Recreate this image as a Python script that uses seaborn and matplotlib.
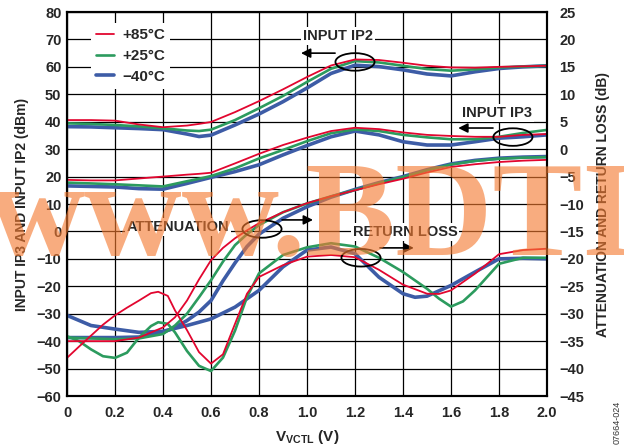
import numpy as np
import pandas as pd
import matplotlib
matplotlib.use('Agg')
import matplotlib.pyplot as plt
from matplotlib.patches import Ellipse
from matplotlib.lines import Line2D
import seaborn as sns

# ---- data ----
temps = ['+85°C', '+25°C', '\u221240°C']

# input IP2 / IP3 (left axis, dBm)
v_ip = [0, 0.1, 0.2, 0.3, 0.4, 0.5, 0.55, 0.6, 0.7, 0.8, 0.9, 1.0, 1.1,
        1.2, 1.3, 1.4, 1.5, 1.6, 1.7, 1.8, 1.9, 2.0]
ip2_85 = [40.6, 40.6, 40.4, 39.0, 38.0, 38.6, 39.2, 39.9, 43.5, 47.5, 51.8, 56.3,
          60.5, 62.7, 62.5, 61.5, 60.4, 59.8, 59.7, 60.0, 60.2, 60.4]
ip2_25 = [39.4, 39.2, 38.8, 38.3, 37.6, 36.8, 36.6, 37.1, 40.6, 44.9, 49.4, 54.5,
          59.3, 62.1, 61.6, 60.4, 59.2, 58.6, 59.1, 59.8, 60.1, 60.4]
ip2_m40 = [38.2, 38.1, 37.8, 37.5, 37.1, 35.5, 34.6, 35.1, 38.8, 42.8, 47.3, 52.3,
           57.6, 60.6, 60.1, 58.9, 57.4, 56.7, 58.2, 59.4, 60.0, 60.4]
ip3_85 = [18.8, 18.6, 18.6, 19.3, 20.0, 20.7, 21.0, 21.4, 24.8, 28.3, 31.5, 34.2,
          36.6, 37.8, 37.3, 36.1, 35.2, 34.8, 34.5, 34.5, 35.2, 35.5]
ip3_25 = [17.8, 17.5, 17.2, 16.8, 16.4, 18.3, 19.2, 20.2, 23.0, 26.6, 29.7, 32.9,
          35.8, 37.2, 36.6, 35.2, 34.3, 33.6, 33.6, 34.5, 35.9, 37.0]
ip3_m40 = [16.6, 16.4, 16.2, 15.6, 15.4, 17.5, 18.6, 19.7, 21.8, 24.3, 27.9, 31.3,
           34.5, 36.6, 35.2, 32.7, 31.5, 31.5, 32.7, 34.0, 34.5, 35.2]

# attenuation (right axis, dB)
v_att = [0, 0.1, 0.2, 0.3, 0.4, 0.45, 0.5, 0.55, 0.6, 0.65, 0.7, 0.75, 0.8, 0.9,
         1.0, 1.1, 1.2, 1.3, 1.4, 1.5, 1.6, 1.7, 1.8, 1.9, 2.0]
att_85 = [-35.0, -35.0, -35.0, -34.35, -32.5, -30.65, -27.6, -23.75, -20.25, -18.0,
          -16.25, -14.8, -13.5, -11.5, -9.85, -8.6, -7.5, -6.4, -5.4, -4.25, -3.25,
          -2.75, -2.35, -2.1, -1.95]
att_25 = [-34.35, -34.5, -34.65, -34.5, -33.7, -32.15, -30.0, -27.0, -23.9, -20.5,
          -17.5, -15.5, -13.85, -11.5, -9.9, -8.6, -7.45, -6.2, -5.1, -3.85, -2.8,
          -2.15, -1.75, -1.55, -1.45]
att_m40 = [-34.35, -34.35, -34.35, -34.25, -33.4, -32.5, -31.25, -29.7, -27.6, -24.0,
           -20.75, -17.75, -15.5, -12.6, -10.5, -8.75, -7.35, -6.1, -5.0, -3.75,
           -2.7, -2.05, -1.65, -1.45, -1.35]

# return loss (right axis, dB)
v_rl_85 = [0, 0.05, 0.1, 0.15, 0.2, 0.25, 0.3, 0.35, 0.38, 0.42, 0.45, 0.5, 0.55, 0.6,
           0.65, 0.7, 0.75, 0.8, 0.9, 1.0, 1.1, 1.2, 1.3, 1.4, 1.5, 1.55, 1.6, 1.7,
           1.8, 1.9, 2.0]
rl_85 = [-38.05, -36.0, -34.0, -32.0, -30.3, -28.9, -27.6, -26.25, -26.0, -26.75,
         -29.4, -33.0, -37.0, -39.1, -37.4, -31.85, -26.35, -23.3, -21.15, -19.6,
         -19.3, -19.7, -22.0, -24.7, -26.35, -26.4, -25.75, -22.7, -19.15, -18.4, -18.15]
v_rl_25 = [0, 0.05, 0.1, 0.15, 0.2, 0.25, 0.3, 0.35, 0.38, 0.42, 0.45, 0.5, 0.55, 0.6,
           0.65, 0.7, 0.75, 0.8, 0.9, 1.0, 1.1, 1.2, 1.3, 1.4, 1.5, 1.55, 1.6, 1.65,
           1.7, 1.8, 1.9, 2.0]
rl_25 = [-34.1, -35.0, -36.5, -37.75, -38.05, -37.1, -34.35, -32.25, -31.55, -31.85,
         -33.4, -36.8, -39.5, -40.45, -38.0, -33.1, -26.95, -22.65, -19.3, -17.9,
         -17.15, -17.75, -19.8, -22.4, -25.45, -27.25, -28.7, -27.75, -25.75, -20.9,
         -19.8, -19.8]
v_rl_m40 = [0, 0.1, 0.2, 0.3, 0.4, 0.5, 0.6, 0.7, 0.8, 0.9, 1.0, 1.1, 1.2, 1.3, 1.4,
            1.45, 1.5, 1.6, 1.7, 1.8, 1.9, 2.0]
rl_m40 = [-30.3, -32.15, -32.8, -33.4, -33.2, -32.15, -30.95, -28.8, -25.75, -21.45,
          -18.4, -17.85, -19.05, -23.35, -26.35, -27.0, -26.8, -24.85, -22.4, -20.0,
          -19.9, -20.0]

colors = {'+85°C': '#E2062F', '+25°C': '#2C9B5E', '\u221240°C': '#3D5CA6'}
widths = {'+85°C': 1.3, '+25°C': 1.9, '\u221240°C': 2.6}

left_curves = {
    '\u221240°C': [ip2_m40, ip3_m40],
    '+25°C': [ip2_25, ip3_25],
    '+85°C': [ip2_85, ip3_85],
}
right_curves = {
    '\u221240°C': [(v_att, att_m40), (v_rl_m40, rl_m40)],
    '+25°C': [(v_att, att_25), (v_rl_25, rl_25)],
    '+85°C': [(v_att, att_85), (v_rl_85, rl_85)],
}

sns.set_style('white')
plt.rcParams['font.family'] = ['Liberation Sans', 'DejaVu Sans']
plt.rcParams['font.weight'] = 'bold'
plt.rcParams['mathtext.fontset'] = 'custom'
plt.rcParams['mathtext.rm'] = 'Liberation Sans:bold'
plt.rcParams['mathtext.bf'] = 'Liberation Sans:bold'

W, H = 624, 447
fig = plt.figure(figsize=(W / 100, H / 100), dpi=100)
ax = fig.add_axes([67 / W, 1 - 396 / H, 480 / W, 384 / H])
ax2 = ax.twinx()

for t in ['\u221240°C', '+25°C', '+85°C']:
    for ys in left_curves[t]:
        sns.lineplot(x=v_ip, y=ys, ax=ax, color=colors[t], lw=widths[t])
    for xs, ys in right_curves[t]:
        sns.lineplot(x=xs, y=ys, ax=ax2, color=colors[t], lw=widths[t])

ax.set_xlim(0, 2.0)
ax.set_ylim(-60, 80)
ax2.set_ylim(-45, 25)
ax.set_xticks(np.arange(0, 2.01, 0.2))
ax.set_xticklabels(['0', '0.2', '0.4', '0.6', '0.8', '1.0', '1.2', '1.4', '1.6', '1.8', '2.0'])
ax.set_yticks(np.arange(-60, 81, 10))
ax2.set_yticks(np.arange(-45, 26, 5))
ax.grid(True, color='black', lw=0.9)
ax.set_axisbelow(True)
ax.tick_params(axis='both', length=0, labelsize=10.5)
ax.tick_params(axis='y', pad=4)
ax.tick_params(axis='x', pad=7)
ax2.tick_params(axis='y', length=0, labelsize=10.5, pad=9)
for lab in ax.get_xticklabels() + ax.get_yticklabels() + ax2.get_yticklabels():
    lab.set_fontweight('bold')
for a in (ax, ax2):
    for s in a.spines.values():
        s.set_color('black')
        s.set_linewidth(1.5)

ax.set_xlabel(r'V$_{\mathrm{VCTL}}$ (V)', fontsize=11, fontweight='bold', labelpad=6)
ax.set_ylabel('INPUT IP3 AND INPUT IP2 (dBm)', fontsize=10, fontweight='bold', labelpad=5)
ax2.set_ylabel('ATTENUATION AND RETURN LOSS (dB)', fontsize=10, fontweight='bold', labelpad=8)

# legend
handles = [Line2D([0], [0], color=colors[t], lw=widths[t]) for t in temps]
ax2.legend(handles, temps, loc='upper left', bbox_to_anchor=(83 / W, 1 - 15 / H),
           bbox_transform=fig.transFigure, frameon=True, facecolor='white',
           edgecolor='none', framealpha=1, fancybox=False, fontsize=11,
           handlelength=1.2, handletextpad=0.5, labelspacing=0.45, borderpad=0.35)

# annotations (right axis coordinates)
box = dict(facecolor='white', edgecolor='none', pad=1.5)
arrow = dict(arrowstyle='-|>', color='black', lw=1.2, mutation_scale=14, shrinkA=0, shrinkB=0)
labels = [('INPUT IP2', (1.13, 20.6), (1.2, 15.9), (1.117, 17.5), (0.975, 17.5)),
          ('INPUT IP3', (1.79, 6.6), (1.858, 2.2), (1.775, 3.85), (1.63, 3.85)),
          ('ATTENUATION', (0.4625, -14.2), (0.8125, -14.55), (0.896, -12.9), (1.025, -12.9)),
          ('RETURN LOSS', (1.408, -15.1), (1.225, -19.8), (1.304, -18.0), (1.445, -18.0))]
for txt, tpos, epos, a0, a1 in labels:
    ax2.text(tpos[0], tpos[1], txt, ha='center', va='center', fontsize=10.5,
             fontweight='bold', bbox=box, zorder=1)
    ax2.add_patch(Ellipse(epos, 0.163, 3.2, fill=False, ec='black', lw=1.3, zorder=5))
    ax2.annotate('', xy=a1, xytext=a0, arrowprops=arrow, zorder=5)

fig.text(617 / W, 1 - 444 / H, '07664-024', rotation=90, fontsize=6.5,
         fontweight='normal', color='#333333', ha='center', va='bottom')

# watermark
fig.text(-12 / W, 1 - 255 / H, 'www.BDTIC.com', fontsize=97, family='Liberation Serif',
         fontweight='bold', color='#F47A30', alpha=0.62, ha='left', va='baseline',
         zorder=10)

fig.savefig('out.png', dpi=100)
